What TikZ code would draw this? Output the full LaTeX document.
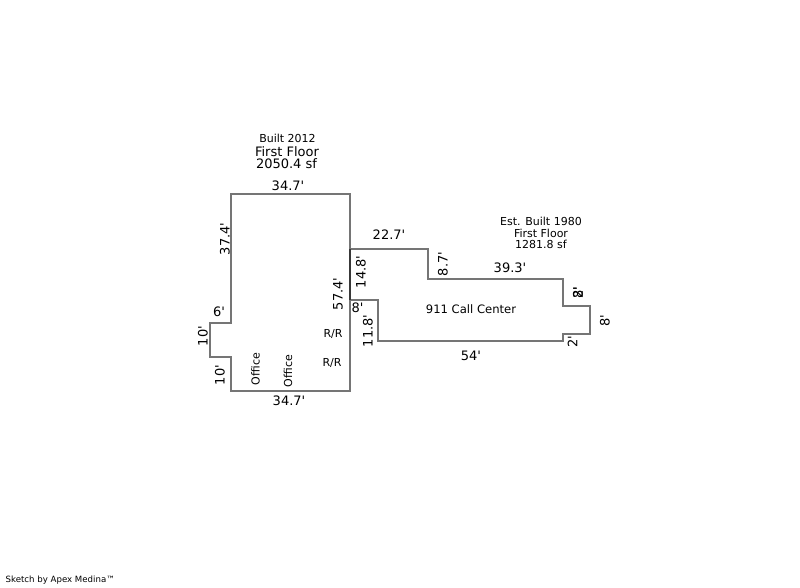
\documentclass[tikz,border=0pt]{standalone}
\usepackage{fontspec}
\setmainfont{DejaVu Sans}[Ligatures=TeXOff]
\tikzset{
  wall/.style={draw=black!54,line width=2pt,line join=miter},
  party/.style={draw=black!78,line width=2pt},
  big/.style={inner sep=0pt,font=\fontsize{13}{13}\selectfont},
  small/.style={inner sep=0pt,font=\fontsize{11}{12}\selectfont},
  roomlbl/.style={inner sep=0pt,font=\fontsize{11.6}{12}\selectfont},
  tiny/.style={inner sep=0pt,font=\fontsize{8.6}{10}\selectfont},
  up/.style={rotate=90}
}
\begin{document}
\begin{tikzpicture}[x=1pt,y=-1pt]
\useasboundingbox (0,0) rectangle (800,587);
\fill[white] (0,0) rectangle (800,587);
% 2012 wing
\draw[wall] (231,194) -- (350,194) -- (350,391) -- (231,391) -- (231,357) -- (210,357) -- (210,323) -- (231,323) -- cycle;
% 1980 wing
\draw[wall] (350,249) -- (428,249) -- (428,279) -- (563,279) -- (563,306) -- (590,306) -- (590,334) -- (563,334) -- (563,341) -- (378,341) -- (378,300) -- (350,300);
\draw[party] (350,249) -- (350,300);
% titles
\node[small] (t1) at (287.5,138) {Built 2012};
\node[big] (t2) at (287,152) {First Floor};
\node[big] (t3) at (286.5,164) {2050.4 sf};
\node[small] (t4) at (541,221) {Est. Built 1980};
\node[small] (t5) at (541,233) {First Floor};
\node[small] (t6) at (541,244) {1281.8 sf};
% dimensions, 2012 wing
\node[big] (d1) at (288,186) {34.7'};
\node[big,up] (d2) at (225,239) {37.4'};
\node[big] (d3) at (219,312) {6'};
\node[big,up] (d4) at (203,336) {10'};
\node[big,up] (d5) at (220,375) {10'};
\node[big] (d6) at (289,401) {34.7'};
\node[big,up] (d7) at (338,294) {57.4'};
% dimensions, 1980 wing
\node[big] (e1) at (389,235) {22.7'};
\node[big,up] (e2) at (361,272) {14.8'};
\node[big,up] (e3) at (443,264) {8.7'};
\node[big] (e4) at (510,268) {39.3'};
\node[big] (e5) at (357.5,308) {8'};
\node[big,up] (e6) at (368,331) {11.8'};
\node[big] (e7) at (471,356) {54'};
\node[big,up] (e8) at (605,321) {8'};
\node[big,up] (e9) at (572.5,342) {2'};
\node[big,up] (e10) at (578,293) {8'};
\node[big,up] (e11) at (578,293) {2'};
% rooms
\node[small,up] (r1) at (255.5,369) {Office};
\node[small,up] (r2) at (288,371) {Office};
\node[small] (r3) at (333,334) {R/R};
\node[small] (r4) at (332,363) {R/R};
\node[roomlbl] (r5) at (471,309) {911 Call Center};
\node[tiny,anchor=west] (c) at (5.5,580) {Sketch by Apex Medina™};
\end{tikzpicture}
\end{document}
